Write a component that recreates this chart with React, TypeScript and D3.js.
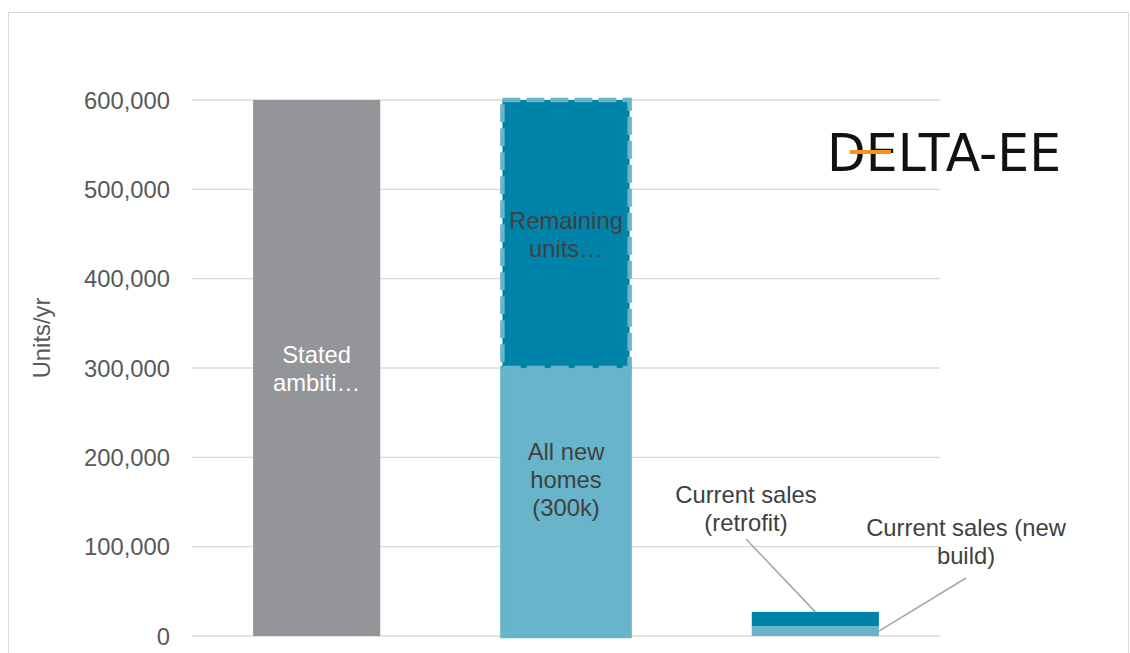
import React from "react";
import * as d3 from "d3";

const categories = ["ambition", "newHomes", "current"];
const statedAmbition = [600000, 0, 0];
const newBuildBase = [0, 300000, 11000];
const remainingUnits = [0, 300000, 0];
const retrofitSales = [0, 0, 16000];
const yTicks = [0, 100000, 200000, 300000, 400000, 500000, 600000];
const axisTitle = "Units/yr";
const ambitionLabel = ["Stated", "ambiti…"];
const remainingLabel = ["Remaining", "units…"];
const newHomesLabel = ["All new", "homes", "(300k)"];
const retrofitCallout = ["Current sales", "(retrofit)"];
const newBuildCallout = ["Current sales (new", "build)"];

const W = 1130;
const H = 653;
const FONT = "'Liberation Sans', Arial, sans-serif";
const FS = 23.8;
const GRAY = "#939598";
const DARK = "#0083a9";
const LIGHT = "#68b4ca";
const TEXT = "#404040";

export default function App() {
  const x = d3.scaleBand<string>().domain(categories).range([192, 940]).paddingInner(0.49).paddingOuter(0.245);
  const y = d3.scaleLinear().domain([0, 600000]).range([636, 100]);
  const bw = x.bandwidth();
  const fmt = d3.format(",");

  const bars: { cat: string; y0: number; y1: number; fill: string; dashed?: boolean; stroke?: string }[] = [];
  categories.forEach((c, i) => {
    let base = 0;
    if (statedAmbition[i] > 0) { bars.push({ cat: c, y0: base, y1: base + statedAmbition[i], fill: GRAY }); base += statedAmbition[i]; }
    if (newBuildBase[i] > 0) { bars.push({ cat: c, y0: base, y1: base + newBuildBase[i], fill: LIGHT, stroke: i === 1 ? LIGHT : undefined }); base += newBuildBase[i]; }
    if (remainingUnits[i] > 0) { bars.push({ cat: c, y0: base, y1: base + remainingUnits[i], fill: DARK, dashed: true }); base += remainingUnits[i]; }
    if (retrofitSales[i] > 0) { bars.push({ cat: c, y0: base, y1: base + retrofitSales[i], fill: DARK }); base += retrofitSales[i]; }
  });

  const cx = (c: string) => (x(c) as number) + bw / 2;
  const lineH = 28;

  const multiline = (lines: string[], px: number, pyCenter: number, color: string) => (
    <text x={px} y={pyCenter - ((lines.length - 1) * lineH) / 2} textAnchor="middle" dominantBaseline="central" fill={color} fontSize={FS} fontFamily={FONT}>
      {lines.map((l, k) => (
        <tspan key={k} x={px} dy={k === 0 ? 0 : lineH}>{l}</tspan>
      ))}
    </text>
  );

  const c3 = categories[2];
  const nbTop = y(newBuildBase[2]);
  const rfTop = y(newBuildBase[2] + retrofitSales[2]);

  return (
    <svg width={W} height={H} style={{ position: "absolute", left: 0, top: 0, background: "#fff" }} fontFamily={FONT}>
      <rect x={8.5} y={12.5} width={1120} height={700} fill="#fff" stroke="#d9d9d9" strokeWidth={1} />
      {yTicks.map((t) => (
        <g key={t}>
          <line x1={192} x2={940} y1={y(t)} y2={y(t)} stroke="#d9d9d9" strokeWidth={1.3} />
          <text x={170} y={y(t)} textAnchor="end" dominantBaseline="central" fill="#595959" fontSize={FS}>{fmt(t)}</text>
        </g>
      ))}
      <text transform={`translate(41,${y(300000) - 30}) rotate(-90)`} textAnchor="middle" dominantBaseline="central" fill="#595959" fontSize={FS}>{axisTitle}</text>
      {bars.map((b, i) => (
        <rect
          key={i}
          x={x(b.cat) as number}
          width={bw}
          y={y(b.y1)}
          height={y(b.y0) - y(b.y1)}
          fill={b.fill}
          stroke={b.dashed ? LIGHT : b.stroke || "none"}
          strokeWidth={b.dashed || b.stroke ? 4.5 : 0}
          strokeDasharray={b.dashed ? "18 6" : undefined}
        />
      ))}
      {multiline(ambitionLabel, cx(categories[0]), y(statedAmbition[0] / 2), "#ffffff")}
      {multiline(remainingLabel, cx(categories[1]), y(newBuildBase[1] + remainingUnits[1] / 2), TEXT)}
      {multiline(newHomesLabel, cx(categories[1]), y(newBuildBase[1] / 2) - 23, TEXT)}
      {multiline(retrofitCallout, 746, 508, TEXT)}
      {multiline(newBuildCallout, 966, 541, TEXT)}
      <line x1={746} y1={539} x2={cx(c3)} y2={rfTop} stroke="#a6a6a6" strokeWidth={1.5} />
      <line x1={966} y1={578} x2={(x(c3) as number) + bw} y2={(nbTop + y(0)) / 2} stroke="#a6a6a6" strokeWidth={1.5} />
      <g>
        <text x={827} y={171} fontSize={52} fontFamily="'DejaVu Sans', sans-serif" fill="#111" textLength={234} lengthAdjust="spacingAndGlyphs">DELTA-EE</text>
        <rect x={850} y={150} width={41} height={4} fill="#f7941d" />
      </g>
    </svg>
  );
}
